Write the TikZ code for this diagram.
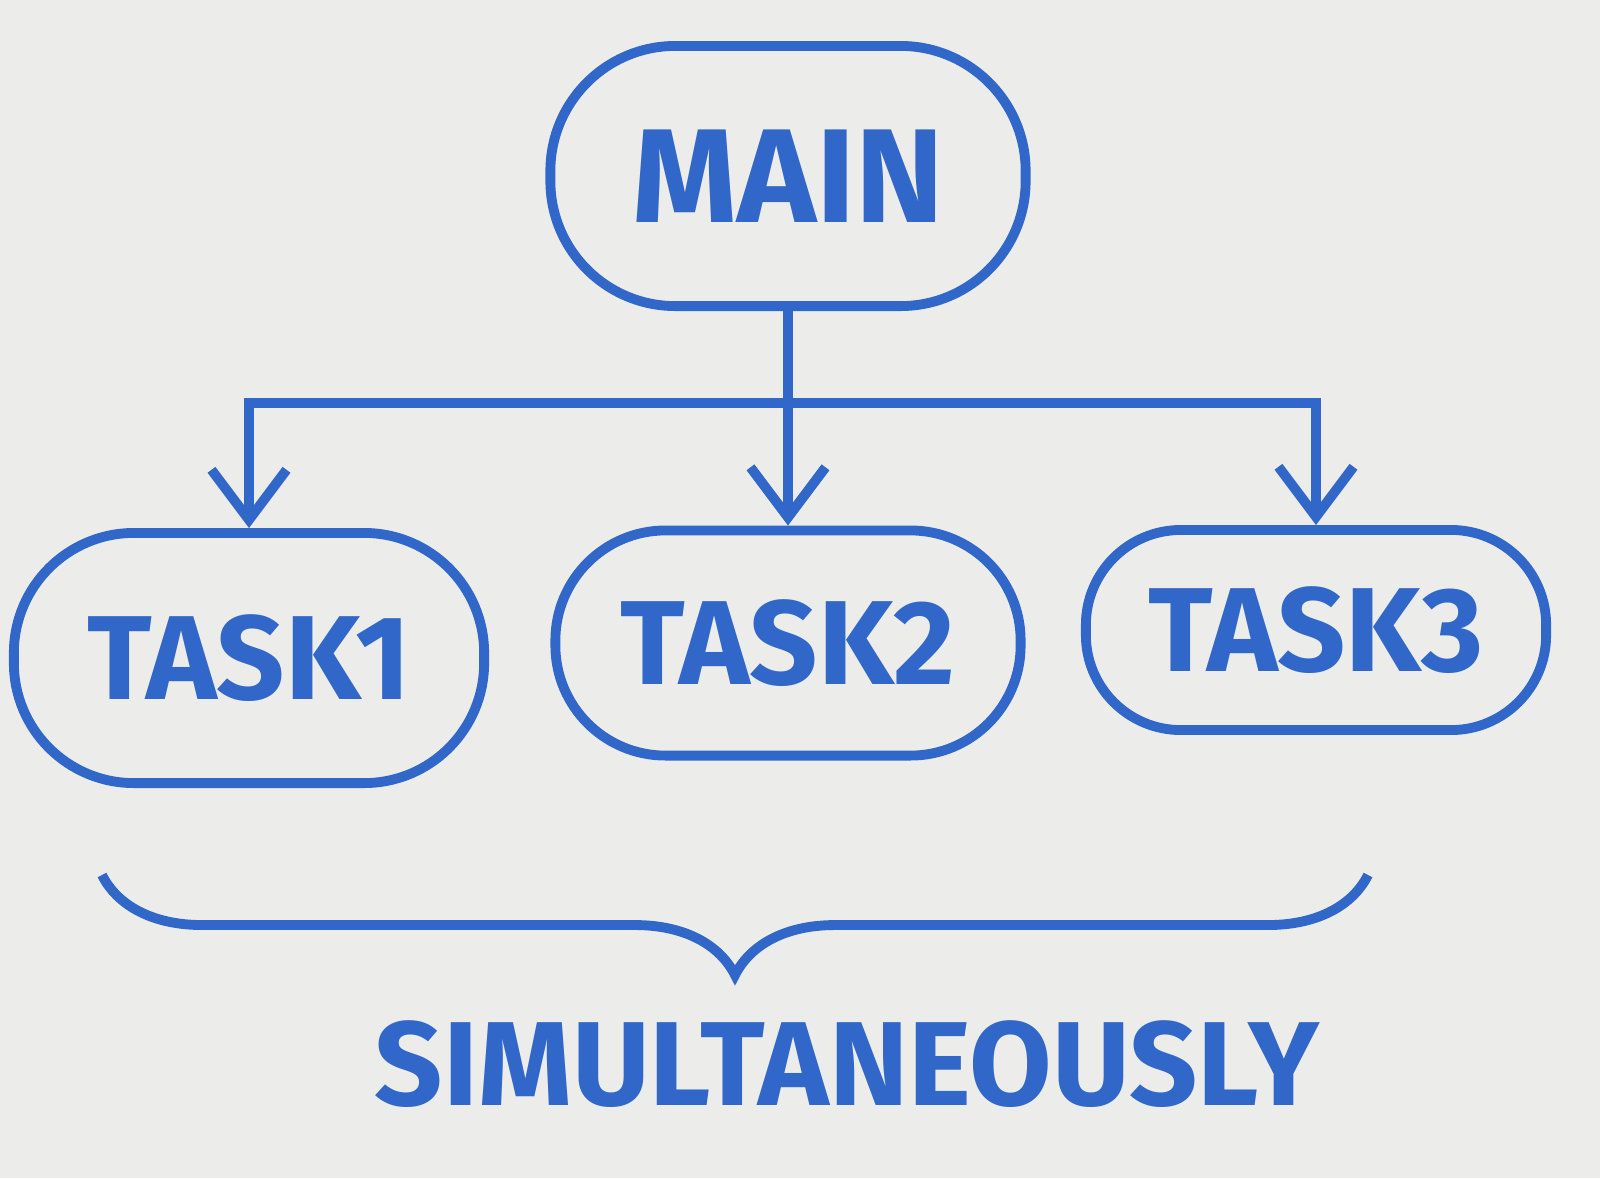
\documentclass[tikz,border=0pt]{standalone}
\usepackage{fontspec}
\setmainfont{Fira Sans}
\usetikzlibrary{arrows.meta,decorations.pathreplacing}
\definecolor{ink}{HTML}{3167C9}
\definecolor{paper}{HTML}{ECECEA}
\tikzset{
  box/.style={draw=ink, line width=2.8pt, rounded corners=1.1cm, text=ink, inner sep=0pt},
  conn/.style={draw=ink, line width=2.8pt, -{Straight Barb[length=0.5cm,width=0.75cm,line width=2.8pt]}},
  lbl/.style={text=ink, font=\bfseries\fontsize{34}{40}\selectfont}
}
\begin{document}
\begin{tikzpicture}[x=0.01cm,y=-0.01cm]
\fill[paper] (0,0) rectangle (1600,1178);
\useasboundingbox (0,0) rectangle (1600,1178);
\node[box, minimum width=4.75cm, minimum height=2.6cm, rounded corners=1.25cm, lbl, font=\bfseries\fontsize{38}{44}\selectfont] (main) at (788,176) {MAIN};
\node[box, minimum width=4.7cm, minimum height=2.5cm, rounded corners=1.2cm, lbl] (task1) at (249,658) {TASK1};
\node[box, minimum width=4.65cm, minimum height=2.25cm, lbl] (task2) at (788,643) {TASK2};
\node[box, minimum width=4.6cm, minimum height=2.0cm, rounded corners=0.95cm, lbl] (task3) at (1316,630) {TASK3};
\coordinate (j) at (788,403);
\draw[conn] (main.south) -- (task2.north);
\draw[conn] (j) -| (task1.north);
\draw[conn] (j) -| (task3.north);
\coordinate (bl) at (102,875);
\coordinate (br) at (1368,875);
\draw[ink, line width=2.8pt, decorate, decoration={brace, mirror, amplitude=1.0cm}] (bl) -- (br);
\node[text=ink, font=\bfseries\fontsize{34}{40}\selectfont] (simul) at (847,1064) {SIMULTANEOUSLY};
\end{tikzpicture}
\end{document}
